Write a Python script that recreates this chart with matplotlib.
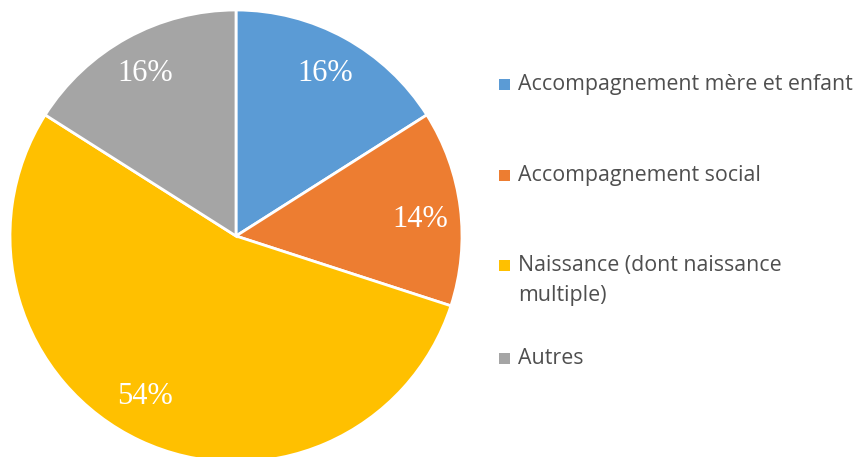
import matplotlib
matplotlib.use("Agg")
import matplotlib.pyplot as plt
from matplotlib.patches import Rectangle

# --- data ---
categories = [
    "Accompagnement mère et enfant",
    "Accompagnement social",
    "Naissance (dont naissance\nmultiple)",
    "Autres",
]
shares = [16, 14, 54, 16]
colors = ["#5B9BD5", "#ED7D31", "#FFC000", "#A5A5A5"]

W, H, DPI = 861, 457, 100
TEXT = "#4F4F4F"
LINE_H = 29  # px between wrapped legend lines

fig = plt.figure(figsize=(W / DPI, H / DPI), dpi=DPI)
fig.patch.set_facecolor("white")

# pie centre (236, 236) px from top-left, radius 226 px
cx, cy, r = 236, 236, 226
ax = fig.add_axes([(cx - r) / W, (H - cy - r) / H, 2 * r / W, 2 * r / H])
ax.axis("off")

wedges, _, autotexts = ax.pie(
    shares,
    colors=colors,
    startangle=90,
    counterclock=False,
    radius=1.0,
    center=(0, 0),
    autopct=lambda p: f"{round(p):.0f}%",
    pctdistance=0.82,
    wedgeprops=dict(edgecolor="white", linewidth=2),
    textprops=dict(color="white", fontsize=22, family="Liberation Serif"),
    frame=False,
)
ax.set_xlim(-1, 1)
ax.set_ylim(-1, 1)

# small nudges (px) so labels sit like the original's
nudges = [(0, 0), (0, -7), (-12, 7), (-2, 0)]
for t, (dx, dy) in zip(autotexts, nudges):
    x, y = t.get_position()
    t.set_position((x + dx / r, y + dy / r))

# legend drawn by hand so the two-line entry keeps its square on the first line
legend_y = [84, 175.5, 265.5, 358]   # px from top, centre of each square
for label, color, y in zip(categories, colors, legend_y):
    fig.patches.append(Rectangle((499 / W, (H - y - 5.5) / H), 11 / W, 11 / H,
                                 transform=fig.transFigure, facecolor=color,
                                 edgecolor="none"))
    for i, line in enumerate(label.split("\n")):
        fig.text(518 / W, (H - y - 6 - i * LINE_H) / H, line, ha="left",
                 va="baseline", fontsize=15.4, color=TEXT, family="Open Sans",
                 transform=fig.transFigure)

fig.savefig("out.png", dpi=DPI, facecolor="white")
